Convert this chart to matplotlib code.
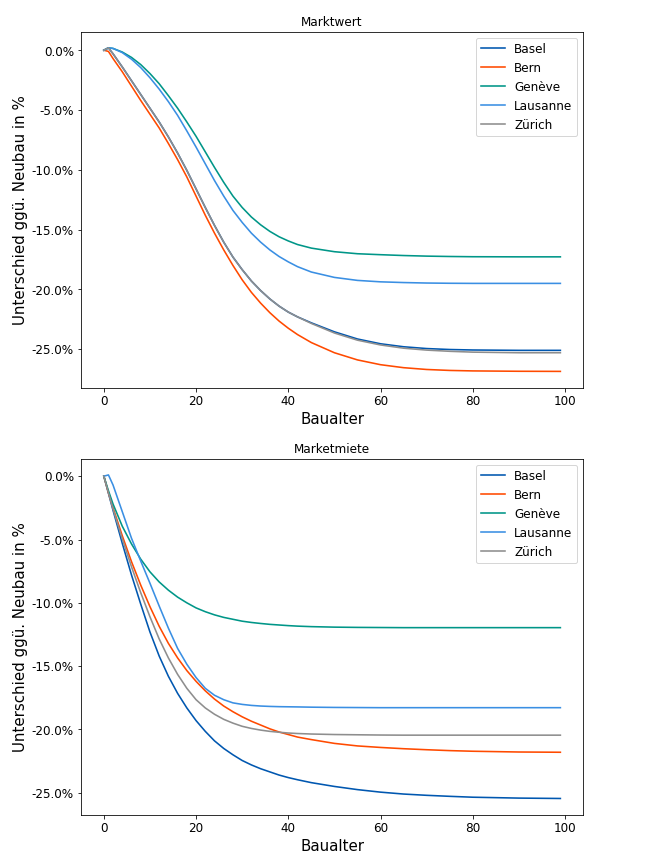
import matplotlib
matplotlib.use("Agg")
import matplotlib.pyplot as plt
from matplotlib.ticker import FuncFormatter

# Baualter (Jahre)
ages = [0, 1, 2, 4, 6, 8, 10, 12, 14, 16, 18, 20, 22, 24, 26, 28, 30, 32, 34, 36,
        38, 40, 42, 45, 50, 55, 60, 65, 70, 75, 80, 90, 99]

cities = ["Basel", "Bern", "Genève", "Lausanne", "Zürich"]
colors = ["#0057b0", "#ff4a00", "#009688", "#3a8fe3", "#8e8e8e"]

# Marktwert: Unterschied ggü. Neubau in %
mw_basel = [0, 0.2, -0.3, -1.4, -2.55, -3.7, -4.85, -6.0, -7.25, -8.6, -10.05, -11.6,
            -13.15, -14.65, -16.05, -17.3, -18.35, -19.3, -20.1, -20.8, -21.4, -21.9,
            -22.3, -22.8, -23.55, -24.15, -24.55, -24.8, -24.95, -25.03, -25.07,
            -25.1, -25.1]
mw_bern = [0, -0.1, -0.7, -1.8, -3.0, -4.2, -5.35, -6.5, -7.8, -9.15, -10.6, -12.2,
           -13.8, -15.3, -16.7, -18.0, -19.2, -20.25, -21.15, -21.95, -22.65, -23.25,
           -23.78, -24.45, -25.3, -25.9, -26.3, -26.55, -26.7, -26.78, -26.82,
           -26.85, -26.86]
mw_geneve = [0, 0.2, 0.15, -0.15, -0.6, -1.2, -1.95, -2.8, -3.8, -4.85, -6.0, -7.2,
             -8.5, -9.8, -11.05, -12.2, -13.15, -13.95, -14.6, -15.15, -15.6, -15.95,
             -16.25, -16.55, -16.85, -17.02, -17.1, -17.17, -17.22, -17.25, -17.27,
             -17.28, -17.28]
mw_lausanne = [0, 0.2, 0.15, -0.2, -0.75, -1.45, -2.3, -3.25, -4.3, -5.45, -6.75,
               -8.1, -9.5, -10.9, -12.2, -13.4, -14.4, -15.3, -16.05, -16.7, -17.25,
               -17.7, -18.1, -18.55, -19.0, -19.25, -19.37, -19.43, -19.47, -19.49,
               -19.5, -19.5, -19.5]
mw_zuerich = [0, 0.2, -0.3, -1.4, -2.55, -3.7, -4.85, -6.0, -7.25, -8.6, -10.05,
              -11.6, -13.15, -14.65, -16.05, -17.3, -18.35, -19.3, -20.1, -20.8,
              -21.4, -21.9, -22.3, -22.85, -23.65, -24.25, -24.65, -24.92, -25.08,
              -25.18, -25.25, -25.3, -25.3]

# Marketmiete: Unterschied ggü. Neubau in %
mm_basel = [0, -1.35, -2.7, -5.3, -7.8, -10.1, -12.3, -14.2, -15.8, -17.15, -18.3,
            -19.3, -20.15, -20.9, -21.5, -22.0, -22.45, -22.8, -23.1, -23.35, -23.6,
            -23.8, -23.97, -24.2, -24.5, -24.75, -24.95, -25.1, -25.2, -25.28,
            -25.35, -25.42, -25.45]
mm_bern = [0, -1.3, -2.5, -4.7, -6.75, -8.6, -10.3, -11.85, -13.2, -14.35, -15.35,
           -16.2, -16.95, -17.6, -18.15, -18.6, -19.0, -19.35, -19.65, -19.95, -20.2,
           -20.4, -20.6, -20.8, -21.1, -21.3, -21.42, -21.52, -21.6, -21.67, -21.72,
           -21.78, -21.8]
mm_geneve = [0, -1.15, -2.2, -3.95, -5.35, -6.55, -7.55, -8.35, -9.0, -9.55, -10.0,
             -10.4, -10.7, -10.95, -11.15, -11.3, -11.45, -11.55, -11.63, -11.7,
             -11.75, -11.8, -11.84, -11.88, -11.92, -11.94, -11.95, -11.96, -11.96,
             -11.96, -11.96, -11.96, -11.96]
mm_lausanne = [0, 0.1, -0.7, -2.8, -4.9, -6.7, -8.45, -10.25, -12.0, -13.6, -14.85,
               -15.9, -16.75, -17.3, -17.65, -17.9, -18.02, -18.1, -18.15, -18.18,
               -18.2, -18.21, -18.22, -18.24, -18.26, -18.27, -18.28, -18.28, -18.28,
               -18.28, -18.28, -18.28, -18.28]
mm_zuerich = [0, -1.3, -2.6, -4.95, -7.15, -9.2, -11.1, -12.85, -14.35, -15.65,
              -16.75, -17.65, -18.3, -18.8, -19.2, -19.5, -19.75, -19.92, -20.05,
              -20.15, -20.22, -20.28, -20.32, -20.36, -20.4, -20.42, -20.44, -20.45,
              -20.45, -20.45, -20.45, -20.45, -20.45]

marktwert = [mw_basel, mw_bern, mw_geneve, mw_lausanne, mw_zuerich]
marketmiete = [mm_basel, mm_bern, mm_geneve, mm_lausanne, mm_zuerich]

plt.rcParams["font.size"] = 12

fig, axes = plt.subplots(2, 1, figsize=(9, 11.99), dpi=72)
fig.subplots_adjust(left=0.125, right=0.9, top=0.963, bottom=0.056, hspace=0.2)

pct = FuncFormatter(lambda v, pos: "{:.1f}%".format(v))

for ax, title, series in zip(axes, ["Marktwert", "Marketmiete"], [marktwert, marketmiete]):
    for name, col, vals in zip(cities, colors, series):
        ax.plot(ages, vals, color=col, lw=1.6, label=name)
    ax.set_title(title, fontsize=12)
    ax.set_xlabel("Baualter", fontsize=15)
    ax.set_ylabel("Unterschied ggü. Neubau in %", fontsize=15)
    ax.yaxis.set_major_formatter(pct)
    ax.legend(loc="upper right", fontsize=12)

fig.savefig("out.png", dpi=72)
